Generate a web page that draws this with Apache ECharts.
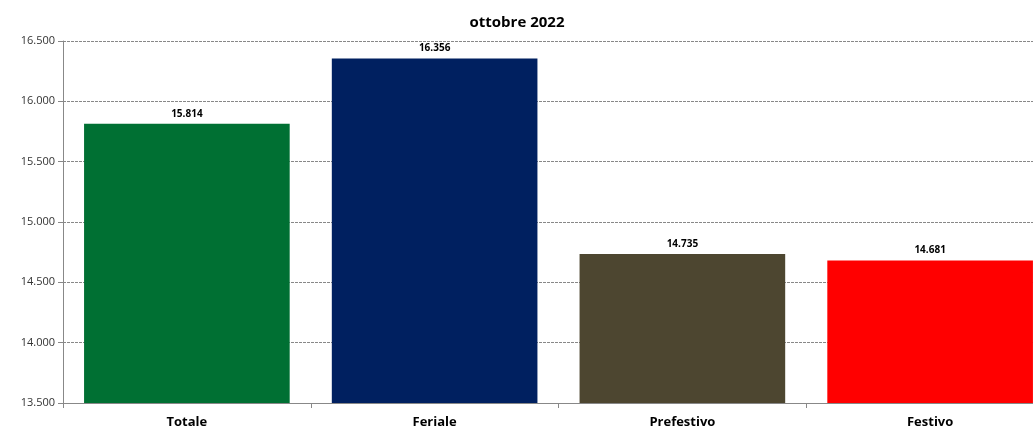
<!DOCTYPE html>
<html><head><meta charset="utf-8">
<script src="https://cdn.jsdelivr.net/npm/echarts@6/dist/echarts.min.js"></script>
<style>html,body{margin:0;padding:0;background:#fff;overflow:hidden;width:1033px;height:431px}#c{width:1060px;height:431px}</style>
</head><body><div id="c"></div>
<script>
const titleText = "ottobre 2022";
const categories = ["Totale", "Feriale", "Prefestivo", "Festivo"];
const values = [15814, 16356, 14735, 14681];
const colors = ["#007033", "#002060", "#4D4630", "#FF0000"];
const yMin = 13500, yMax = 16500, yStep = 500;

function fmt(v) { return String(Math.round(v)).replace(/\B(?=(\d{3})+(?!\d))/g, "."); }

const chart = echarts.init(document.getElementById("c"), null, {renderer: "canvas"});
chart.setOption({
  animation: false,
  title: {text: titleText, left: 512, top: 10, textAlign: "center",
    textStyle: {fontFamily: "Open Sans", fontSize: 15, fontWeight: "bold", color: "#000"}},
  grid: {left: 63, top: 41, bottom: 28, right: 6, containLabel: false},
  xAxis: {type: "category", data: categories,
    axisLine: {lineStyle: {color: "#888", width: 1}},
    axisTick: {show: true, length: 5, lineStyle: {color: "#888"}},
    axisLabel: {fontFamily: "Open Sans", fontSize: 13, fontWeight: "bold", color: "#000", margin: 13}},
  yAxis: {type: "value", min: yMin, max: yMax, interval: yStep,
    axisLine: {show: true, lineStyle: {color: "#888", width: 1}},
    axisTick: {show: true, length: 5, lineStyle: {color: "#888"}},
    splitLine: {lineStyle: {color: "#888", type: [3, 1], width: 1}},
    axisLabel: {formatter: fmt, fontFamily: "Open Sans", fontSize: 11, color: "#333", margin: 8}},
  series: [{type: "bar", data: values.map((v, i) => ({value: v, itemStyle: {color: colors[i]}})),
    barCategoryGap: "17%",
    label: {show: true, position: "top", formatter: p => fmt(p.value), distance: 5,
      fontFamily: "Open Sans", fontSize: 10, fontWeight: "bold", color: "#000"}}]
});
</script></body></html>
